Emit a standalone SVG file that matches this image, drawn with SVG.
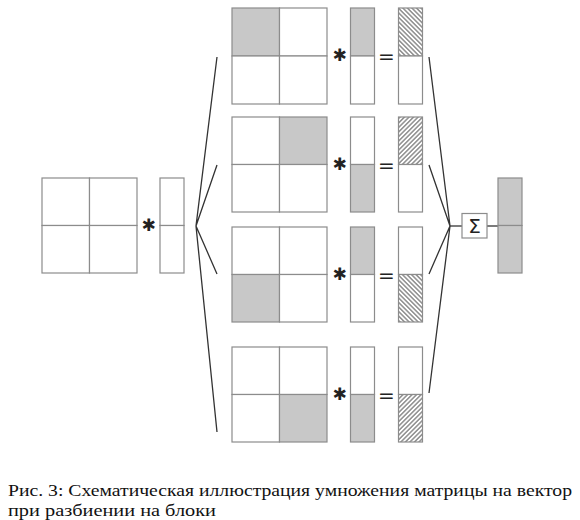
<svg xmlns="http://www.w3.org/2000/svg" width="580" height="520" viewBox="0 0 580 520">
<style>
.cell{fill:#ffffff;stroke:#8c8c8c;stroke-width:1.2}
.g{fill:#c8c8c8;stroke:#8c8c8c;stroke-width:1.2}
.hb{fill:url(#hatchB);stroke:#8c8c8c;stroke-width:1.2}
.hf{fill:url(#hatchF);stroke:#8c8c8c;stroke-width:1.2}
.fan{stroke:#333333;stroke-width:1.3;fill:none}
.op{font-family:"DejaVu Sans",sans-serif;fill:#222222;text-anchor:middle}
.ast{font-family:"DejaVu Sans",sans-serif;fill:#222222;text-anchor:middle;font-size:17px}
</style>
<defs>
<pattern id="hatchB" width="3.2" height="3.2" patternUnits="userSpaceOnUse" patternTransform="rotate(-45)">
<rect width="3.2" height="3.2" fill="#ffffff"/>
<line x1="0.8" y1="0" x2="0.8" y2="3.2" stroke="#555555" stroke-width="1"/>
</pattern>
<pattern id="hatchF" width="3.2" height="3.2" patternUnits="userSpaceOnUse" patternTransform="rotate(45)">
<rect width="3.2" height="3.2" fill="#ffffff"/>
<line x1="0.8" y1="0" x2="0.8" y2="3.2" stroke="#555555" stroke-width="1"/>
</pattern>
</defs>

<g id="connectors">
<path class="fan" d="M217,57 L196,226 L217,432 M217,165 L196,226 L217,274"/>
<path class="fan" d="M429,57 L450,226 L429,393 M429,165 L450,226 L429,274"/>
<line class="fan" x1="450" y1="226" x2="462" y2="226"/>
<line class="fan" x1="487" y1="226" x2="498" y2="226"/>
</g>

<g id="A">
<rect class="cell" x="42" y="178" width="47.5" height="47.5"/>
<rect class="cell" x="89.5" y="178" width="47.5" height="47.5"/>
<rect class="cell" x="42" y="225.5" width="47.5" height="47.5"/>
<rect class="cell" x="89.5" y="225.5" width="47.5" height="47.5"/>
</g>
<text class="ast" x="148.5" y="231">✱</text>
<g id="x">
<rect class="cell" x="160" y="178" width="24" height="47.5"/>
<rect class="cell" x="160" y="225.5" width="24" height="47.5"/>
</g>

<g id="row1">
<rect class="g" x="232" y="8" width="47.5" height="48"/>
<rect class="cell" x="279.5" y="8" width="47.5" height="48"/>
<rect class="cell" x="232" y="56" width="47.5" height="48"/>
<rect class="cell" x="279.5" y="56" width="47.5" height="48"/>
<text class="ast" x="339.5" y="61">✱</text>
<rect class="g" x="350.5" y="8" width="24" height="48"/>
<rect class="cell" x="350.5" y="56" width="24" height="48"/>
<text class="op" x="386.5" y="63" font-size="20">=</text>
<rect class="hb" x="398.5" y="8" width="24" height="48"/>
<rect class="cell" x="398.5" y="56" width="24" height="48"/>
</g>

<g id="row2">
<rect class="cell" x="232" y="117" width="47.5" height="47.5"/>
<rect class="g" x="279.5" y="117" width="47.5" height="47.5"/>
<rect class="cell" x="232" y="164.5" width="47.5" height="47.5"/>
<rect class="cell" x="279.5" y="164.5" width="47.5" height="47.5"/>
<text class="ast" x="339.5" y="169.5">✱</text>
<rect class="cell" x="350.5" y="117" width="24" height="47.5"/>
<rect class="g" x="350.5" y="164.5" width="24" height="47.5"/>
<text class="op" x="386.5" y="171.5" font-size="20">=</text>
<rect class="hf" x="398.5" y="117" width="24" height="47.5"/>
<rect class="cell" x="398.5" y="164.5" width="24" height="47.5"/>
</g>

<g id="row3">
<rect class="cell" x="232" y="227" width="47.5" height="47.5"/>
<rect class="cell" x="279.5" y="227" width="47.5" height="47.5"/>
<rect class="g" x="232" y="274.5" width="47.5" height="47.5"/>
<rect class="cell" x="279.5" y="274.5" width="47.5" height="47.5"/>
<text class="ast" x="339.5" y="279.5">✱</text>
<rect class="g" x="350.5" y="227" width="24" height="47.5"/>
<rect class="cell" x="350.5" y="274.5" width="24" height="47.5"/>
<text class="op" x="386.5" y="281.5" font-size="20">=</text>
<rect class="cell" x="398.5" y="227" width="24" height="47.5"/>
<rect class="hb" x="398.5" y="274.5" width="24" height="47.5"/>
</g>

<g id="row4">
<rect class="cell" x="232" y="347" width="47.5" height="47.5"/>
<rect class="cell" x="279.5" y="347" width="47.5" height="47.5"/>
<rect class="cell" x="232" y="394.5" width="47.5" height="47.5"/>
<rect class="g" x="279.5" y="394.5" width="47.5" height="47.5"/>
<text class="ast" x="339.5" y="399.5">✱</text>
<rect class="cell" x="350.5" y="347" width="24" height="47.5"/>
<rect class="g" x="350.5" y="394.5" width="24" height="47.5"/>
<text class="op" x="386.5" y="401.5" font-size="20">=</text>
<rect class="cell" x="398.5" y="347" width="24" height="47.5"/>
<rect class="hf" x="398.5" y="394.5" width="24" height="47.5"/>
</g>

<g id="sum">
<rect class="cell" x="462" y="213.5" width="25" height="24.5"/>
<text class="op" x="474.5" y="233" font-size="20">Σ</text>
</g>

<g id="y">
<rect class="g" x="498" y="178" width="24" height="47.5"/>
<rect class="g" x="498" y="225.5" width="24" height="47.5"/>
</g>

<g id="caption" font-family="'Liberation Serif', serif" font-size="17" fill="#111111">
<text x="8" y="496" textLength="564" lengthAdjust="spacingAndGlyphs">Рис. 3: Схематическая иллюстрация умножения матрицы на вектор</text>
<text x="8" y="516" textLength="208" lengthAdjust="spacingAndGlyphs">при разбиении на блоки</text>
</g>
</svg>
